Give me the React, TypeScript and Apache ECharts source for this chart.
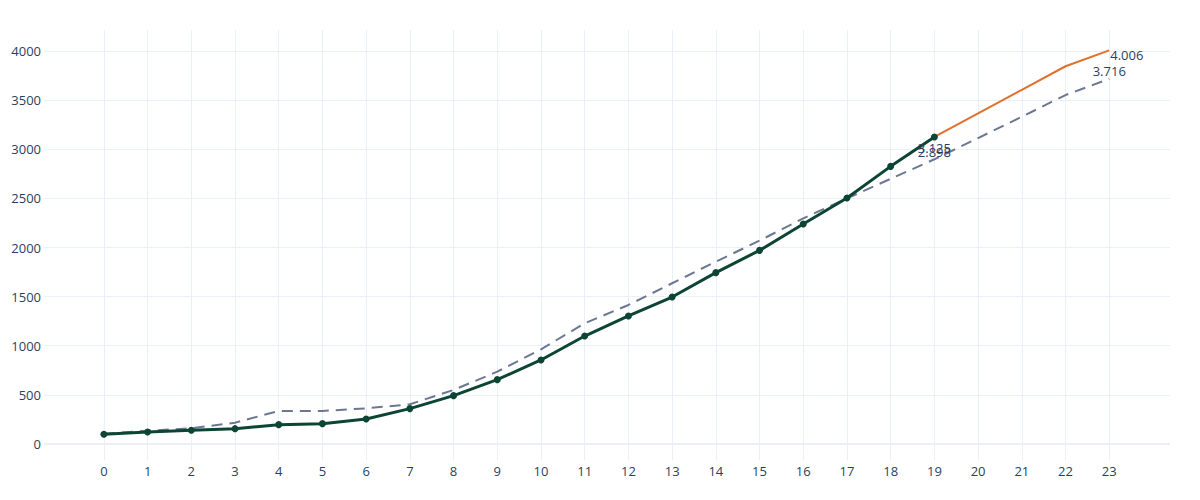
import React, { useEffect, useRef } from "react";
import * as echarts from "echarts";

const xTicks = [0, 1, 2, 3, 4, 5, 6, 7, 8, 9, 10, 11, 12, 13, 14, 15, 16, 17, 18, 19, 20, 21, 22, 23];
const yTicks = [0, 500, 1000, 1500, 2000, 2500, 3000, 3500, 4000];
const actual = [99, 122, 139, 156, 197, 207, 254, 360, 492, 655, 855, 1099, 1303, 1496, 1744, 1971, 2239, 2504, 2826, 3125];
const baseline = [104, 135, 160, 217, 336, 336, 363, 404, 550, 736, 964, 1228, 1415, 1636, 1856, 2070, 2297, 2500, 2700, 2898, 3114, 3331, 3552, 3716];
const forecastStart = 19;
const forecast = [3125, 3365, 3605, 3845, 4006];

const fmt = (v: number) => String(v).replace(/\B(?=(\d{3})+(?!\d))/g, ".");

const TEXT = "#2a3f5f";
const GRID = "#EBF0F8";

export default function App() {
  const ref = useRef<HTMLDivElement>(null);
  useEffect(() => {
    document.body.style.margin = "0";
    const chart = echarts.init(ref.current!, null, { renderer: "svg" });
    const labelBase = { color: TEXT, fontSize: 13, fontFamily: "Open Sans" };
    const actualData = actual.map((v, i) =>
      i === actual.length - 1
        ? { value: [xTicks[i], v], label: { show: true, position: "bottom", distance: 1, formatter: fmt(v), ...labelBase } }
        : { value: [xTicks[i], v] }
    );
    const baseData = baseline.map((v, i) =>
      i === forecastStart || i === baseline.length - 1
        ? { value: [xTicks[i], v], label: { show: true, position: "top", distance: 1, formatter: fmt(v), ...labelBase } }
        : { value: [xTicks[i], v] }
    );
    const fcData = forecast.map((v, i) =>
      i === forecast.length - 1
        ? { value: [xTicks[forecastStart + i], v], label: { show: true, position: "right", distance: 1, offset: [0, 5], formatter: fmt(v), ...labelBase } }
        : { value: [xTicks[forecastStart + i], v] }
    );
    chart.setOption({
      animation: false,
      textStyle: { fontFamily: "Open Sans" },
      grid: { left: 44, right: 30, top: 30, bottom: 40, containLabel: false },
      xAxis: {
        type: "value",
        min: -1.37,
        max: 24.39,
        axisLine: { show: false },
        axisTick: { show: false, customValues: xTicks },
        axisLabel: { customValues: xTicks, color: TEXT, fontSize: 13, margin: 4, fontFamily: "Open Sans", formatter: (v: number) => String(v) },
        splitLine: { show: true, lineStyle: { color: GRID, width: 1 } },
      },
      yAxis: {
        type: "value",
        min: -163,
        max: 4214,
        axisLine: { show: false },
        axisTick: { show: false, customValues: yTicks },
        axisLabel: { customValues: yTicks, color: TEXT, fontSize: 13, margin: 3, fontFamily: "Open Sans", formatter: (v: number) => String(v) },
        splitLine: { show: true, lineStyle: { color: GRID, width: 1 } },
      },
      series: [
        {
          type: "line",
          data: [[-1.37, 0], [24.39, 0]],
          symbol: "none",
          lineStyle: { color: GRID, width: 2 },
          silent: true,
          z: 1,
        },
        {
          type: "line",
          data: baseData,
          symbol: "circle",
          symbolSize: 0,
          lineStyle: { color: "#6c7892", width: 2, type: [11, 7] },
          itemStyle: { color: "#6c7892" },
          z: 2,
        },
        {
          type: "line",
          data: fcData,
          symbol: "circle",
          symbolSize: 0,
          lineStyle: { color: "#e0702e", width: 2 },
          itemStyle: { color: "#e0702e" },
          z: 3,
        },
        {
          type: "line",
          data: actualData,
          symbol: "circle",
          symbolSize: 7,
          lineStyle: { color: "#0d4535", width: 3 },
          itemStyle: { color: "#0d4535" },
          z: 4,
        },
      ],
    });
    return () => chart.dispose();
  }, []);
  return <div ref={ref} style={{ width: 1200, height: 500 }} />;
}
